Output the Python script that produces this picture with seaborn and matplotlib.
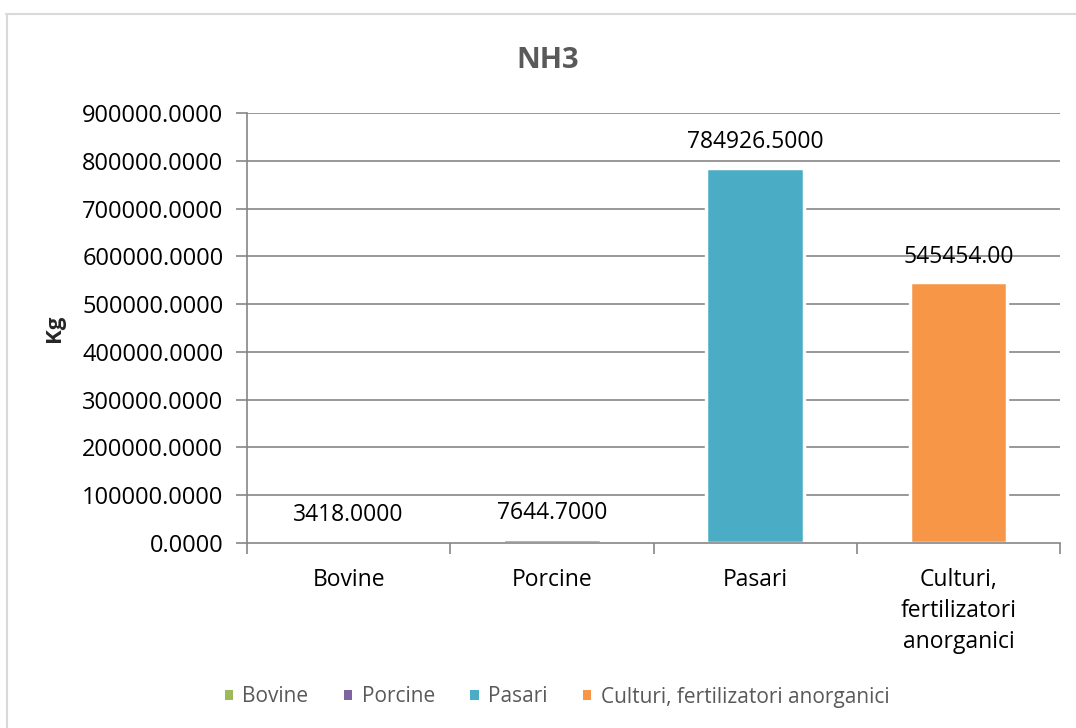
import matplotlib
matplotlib.use("Agg")
import matplotlib.pyplot as plt
from matplotlib.lines import Line2D
from matplotlib.patches import Patch
import seaborn as sns
import pandas as pd

categories = ["Bovine", "Porcine", "Pasari", "Culturi, fertilizatori anorganici"]
tick_labels = ["Bovine", "Porcine", "Pasari", "Culturi,\nfertilizatori\nanorganici"]
values = [3418.0, 7644.7, 784926.5, 545454.0]
value_labels = ["3418.0000", "7644.7000", "784926.5000", "545454.00"]
colors = ["#9BBB59", "#8064A2", "#4BACC6", "#F79646"]
y_ticks = [0, 100000, 200000, 300000, 400000, 500000, 600000, 700000, 800000, 900000]

sns.set_theme(style="white")
plt.rcParams["font.family"] = ["Open Sans", "DejaVu Sans"]

df = pd.DataFrame({"cat": categories, "val": values})

fig = plt.figure(figsize=(10.76, 7.28), dpi=100)
ax = fig.add_axes([247 / 1076, 1 - 543 / 728, (1060 - 247) / 1076, (543 - 113) / 728])

grid_c = "#868686"
ax.set_axisbelow(True)
for t in y_ticks[1:]:
    ax.axhline(t, color=grid_c, lw=1.2, zorder=0)

sns.barplot(data=df, x="cat", y="val", hue="cat", palette=colors, dodge=False,
            width=0.48, legend=False, ax=ax, edgecolor="white", linewidth=2.5,
            saturation=1, zorder=2)

ax.set_ylim(0, 900000)
ax.set_xlim(-0.5, 3.5)
ax.set_yticks(y_ticks)
ax.set_yticklabels([f"{t:.4f}" for t in y_ticks], fontsize=17, color="#000000")
ax.set_xticks(range(4))
ax.set_xticklabels(tick_labels, fontsize=16.5, color="#000000", linespacing=1.4)
ax.set_xticks([-0.5, 0.5, 1.5, 2.5, 3.5], minor=True)
ax.tick_params(axis="x", which="major", length=0, pad=18)
ax.tick_params(axis="x", which="minor", length=8, width=1.2, color=grid_c, direction="out", bottom=True)
ax.tick_params(axis="y", which="major", length=8, width=1.2, color=grid_c, direction="out", left=True, pad=9)

for s in ["top", "right"]:
    ax.spines[s].set_visible(False)
for s in ["left", "bottom"]:
    ax.spines[s].set_color(grid_c)
    ax.spines[s].set_linewidth(1.2)

ax.set_xlabel("")
ax.set_ylabel("Kg", fontsize=16, fontweight="bold", labelpad=12)

for i, (v, lab) in enumerate(zip(values, value_labels)):
    ax.annotate(lab, (i, v), xytext=(0, 10), textcoords="offset points",
                ha="center", va="bottom", fontsize=16.5, color="#000000")

fig.text(548 / 1076, 1 - 60 / 728, "NH3", fontsize=21, fontweight="bold", color="#595959",
         ha="center", va="center")

handles = [Patch(facecolor=c, edgecolor="none") for c in colors]
fig.legend(handles, categories, loc="center", bbox_to_anchor=(557 / 1076, 1 - 697 / 728),
           ncol=4, frameon=False, fontsize=15, handlelength=0.4, handleheight=0.4,
           handletextpad=0.45, columnspacing=1.7, labelcolor="#595959")

# chart border (top and left edges)
fig.add_artist(Line2D([6 / 1076, 1.0], [1 - 14 / 728, 1 - 14 / 728], color="#D9D9D9", lw=1.5,
                      transform=fig.transFigure))
fig.add_artist(Line2D([7 / 1076, 7 / 1076], [0, 1 - 14 / 728], color="#D9D9D9", lw=1.5,
                      transform=fig.transFigure))

fig.savefig("out.png", dpi=100)
